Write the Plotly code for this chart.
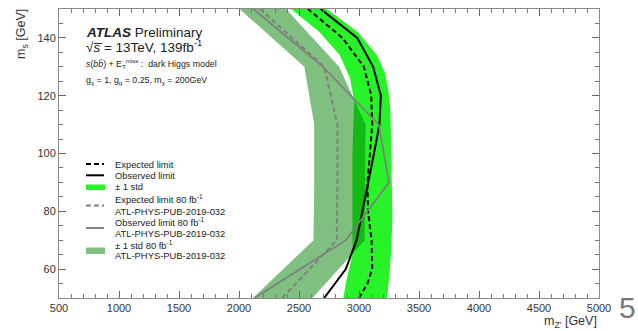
import plotly.graph_objects as go

# ---------------- data ----------------
# 80 fb-1 (ATL-PHYS-PUB-2019-032)
ms_80 = [50, 70, 90, 110, 130, 150]
exp80_x = [2360, 2815, 2820, 2820, 2710, 2175]
obs80_x = [2130, 2890, 3250, 3165, 2700, 2120]
band80_lo = [2116, 2621, 2627, 2627, 2544, 2005]
band80_hi = [2613, 3047, 3050, 3055, 2834, 2392]

# 139 fb-1 expected limit
ms_exp = [50, 55, 60, 70, 80, 90, 100, 110, 120, 130, 140, 150]
exp_x = [3000, 3070, 3110, 3105, 3075, 3070, 3091, 3110, 3102, 3041, 2862, 2575]

# 139 fb-1 observed limit
ms_obs = [50, 60, 70, 80, 90, 100, 110, 120, 130, 140, 150]
obs_x = [2710, 2890, 2980, 3030, 3075, 3125, 3170, 3182, 3118, 2985, 2680]

# 139 fb-1 +-1 std band
ms_band_lo = [50, 55, 60, 66, 72, 100, 118, 126, 134, 142, 150]
band_lo_x = [2870, 2890, 2917, 2950, 2945, 2945, 2960, 2925, 2840, 2670, 2434]
ms_band_hi = [50, 57, 66, 78, 100, 115, 122, 128, 134, 142, 150]
band_hi_x = [3232, 3252, 3268, 3278, 3270, 3262, 3245, 3215, 3150, 2990, 2730]

x_ticks = [500, 1000, 1500, 2000, 2500, 3000, 3500, 4000, 4500, 5000]
y_ticks = [60, 80, 100, 120, 140]

# ---------------- layout helpers ----------------
W, H = 638, 331
ML, MR, MT, MB = 59, 39, 9, 33
PW, PH = W - ML - MR, H - MT - MB


def X(px):
    return (px - ML) / PW


def Y(py):
    return 1 - (py - MT) / PH


GREEN = "rgb(40,242,40)"
BAND80 = "rgba(0,128,0,0.5)"
GREY = "rgb(128,128,128)"
FONT = "Liberation Sans, Arial, sans-serif"

fig = go.Figure()

# +-1 std (139 fb-1)
fig.add_trace(go.Scatter(
    x=band_lo_x + band_hi_x[::-1], y=ms_band_lo + ms_band_hi[::-1],
    fill="toself", fillcolor=GREEN, line=dict(width=0), mode="lines",
    showlegend=False, hoverinfo="skip"))

# +-1 std 80 fb-1
fig.add_trace(go.Scatter(
    x=band80_lo + band80_hi[::-1], y=ms_80 + ms_80[::-1],
    fill="toself", fillcolor=BAND80, line=dict(width=0), mode="lines",
    showlegend=False, hoverinfo="skip"))

# expected / observed 139 fb-1
fig.add_trace(go.Scatter(x=exp_x, y=ms_exp, mode="lines",
                         line=dict(color="black", width=2, dash="5px,3px"),
                         showlegend=False))
fig.add_trace(go.Scatter(x=obs_x, y=ms_obs, mode="lines",
                         line=dict(color="black", width=2),
                         showlegend=False))
# expected / observed 80 fb-1
fig.add_trace(go.Scatter(x=exp80_x, y=ms_80, mode="lines",
                         line=dict(color=GREY, width=2, dash="5px,3px"),
                         showlegend=False))
fig.add_trace(go.Scatter(x=obs80_x, y=ms_80, mode="lines",
                         line=dict(color=GREY, width=1.8),
                         showlegend=False))

axis_common = dict(
    showgrid=False, zeroline=False, showline=True, linecolor="#8a8a8a",
    linewidth=1, mirror="ticks", ticks="inside", ticklen=7, tickwidth=1,
    tickcolor="#666", tickfont=dict(family=FONT, size=11, color="#333"),
)

fig.update_xaxes(range=[500, 5000], tickvals=x_ticks,
                 ticktext=[str(v) for v in x_ticks],
                 minor=dict(ticks="inside", ticklen=4, dtick=100,
                            tick0=500, tickcolor="#777"),
                 **axis_common)
fig.update_yaxes(range=[50, 150], tickvals=y_ticks,
                 ticktext=[str(v) for v in y_ticks],
                 minor=dict(ticks="inside", ticklen=4, dtick=5, tick0=50,
                            tickcolor="#777"),
                 **axis_common)

ann = []


def text(px, py, s, size, xanchor="left", yanchor="middle", color="#222",
         angle=0):
    ann.append(dict(x=X(px), y=Y(py), xref="paper", yref="paper", text=s,
                    showarrow=False, xanchor=xanchor, yanchor=yanchor,
                    textangle=angle,
                    font=dict(family=FONT, size=size, color=color)))


text(84, 33, "<b><i>ATLAS</i></b> Preliminary", 13.5)
text(84, 46, "√<i>s̅</i> = 13TeV, 139fb<sup>-1</sup>", 13.5)
text(84, 63.5, "<i>s</i>(<i>bb̄</i>) + E<sub>T</sub><sup>miss</sup> :  dark Higgs model", 8.8)
text(84, 80, "g<sub>χ</sub> = 1, g<sub>q</sub> = 0.25, m<sub>χ</sub> = 200GeV", 8.8)

# legend
LF = 9.4
text(112.5, 164, "Expected limit", LF)
text(112.5, 175.3, "Observed limit", LF)
text(112.5, 186.7, "± 1 std", LF)
text(112.5, 199, "Expected limit 80 fb<sup>-1</sup>", LF)
text(112.5, 211, "ATL-PHYS-PUB-2019-032", LF)
text(112.5, 222, "Observed limit 80 fb<sup>-1</sup>", LF)
text(112.5, 233, "ATL-PHYS-PUB-2019-032", LF)
text(112.5, 244.5, "± 1 std 80 fb<sup>-1</sup>", LF)
text(112.5, 255.5, "ATL-PHYS-PUB-2019-032", LF)

# axis titles
text(22, 7, "m<sub>s</sub> [GeV]", 12.5, xanchor="center", yanchor="top",
     color="#333", angle=-90)
text(599, 322, "m<sub>Z'</sub> [GeV]", 12.5, xanchor="right", color="#333")
text(627, 307, "5", 30, xanchor="center", color="#777")

shapes = []


def hline(x0, x1, py, color, dash, width=2):
    shapes.append(dict(type="line", xref="paper", yref="paper",
                       x0=X(x0), x1=X(x1), y0=Y(py), y1=Y(py),
                       line=dict(color=color, width=width, dash=dash)))


def rect(x0, x1, y0, y1, color):
    shapes.append(dict(type="rect", xref="paper", yref="paper",
                       x0=X(x0), x1=X(x1), y0=Y(y0), y1=Y(y1),
                       fillcolor=color, line=dict(width=0)))


hline(86, 104, 164, "black", "5px,3px")
hline(86, 104, 175.3, "black", "solid")
rect(86, 105, 184.5, 190, GREEN)
hline(86, 104, 205.5, GREY, "5px,3px")
hline(86, 104, 228, GREY, "solid")
rect(86, 105, 247.5, 254, BAND80)

fig.update_layout(
    width=W, height=H, margin=dict(l=ML, r=MR, t=MT, b=MB),
    paper_bgcolor="white", plot_bgcolor="white",
    annotations=ann, shapes=shapes, showlegend=False,
    font=dict(family=FONT),
)

fig.write_html("out.html")
